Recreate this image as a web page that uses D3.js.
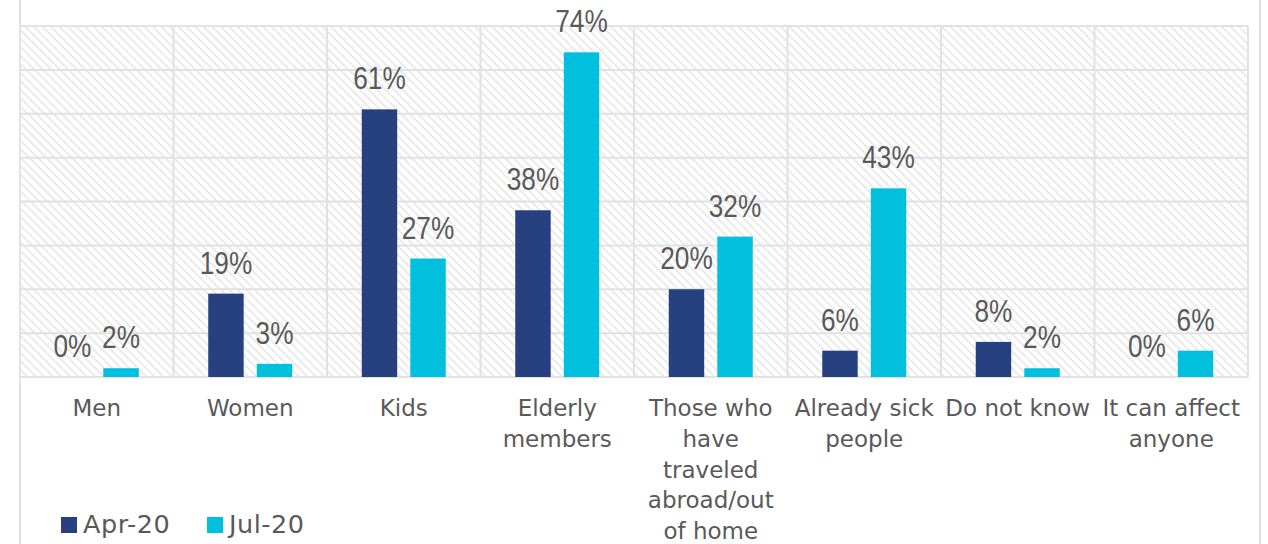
<!DOCTYPE html>
<html>
<head>
<meta charset="utf-8">
<script src="https://cdn.jsdelivr.net/npm/d3@7"></script>
<style>
  html, body { margin: 0; padding: 0; background: #ffffff; }
  svg { display: block; }
  .value { font-family: "Liberation Sans", Arial, sans-serif; font-size: 32px; fill: #595959; }
  .cat { font-family: "DejaVu Sans", sans-serif; font-size: 23px; fill: #595959; }
  .legend text { font-family: "DejaVu Sans", sans-serif; font-size: 25.5px; fill: #595959; letter-spacing: 0.5px; }
</style>
</head>
<body>
<svg id="chart" width="1268" height="544"></svg>
<script>
// Who is most at risk — share of answers per group, two survey waves
const categories = ["Men", "Women", "Kids", "Elderly members", "Those who have traveled abroad/out of home", "Already sick people", "Do not know", "It can affect anyone"];
const seriesNames = ["Apr-20", "Jul-20"];
const apr20 = [0, 19, 61, 38, 20, 6, 8, 0];
const jul20 = [2, 3, 27, 74, 32, 43, 2, 6];
const yTicks = [0, 10, 20, 30, 40, 50, 60, 70, 80];
const colors = ["#264080", "#00c0de"];

const series = [apr20, jul20];
const rows = categories.map((c, i) => ({ category: c, values: series.map((s, k) => ({ key: seriesNames[k], value: s[i] })) }));

const svg = d3.select("#chart");
const W = 1268, H = 544;
const plot = { left: 20, right: 1248, top: 26, bottom: 377 };

// Diagonal hatch fill for the plot area (downward stripes)
const defs = svg.append("defs");
const pat = defs.append("pattern")
  .attr("id", "hatch").attr("patternUnits", "userSpaceOnUse")
  .attr("width", 6).attr("height", 6)
  .attr("patternTransform", "rotate(45)");
pat.append("rect").attr("width", 6).attr("height", 6).attr("fill", "#ffffff");
pat.append("line").attr("x1", 0).attr("y1", 0).attr("x2", 6).attr("y2", 0)
  .attr("stroke", "#e6e6e6").attr("stroke-width", 3.2);

// Outer chart border
svg.append("rect")
  .attr("x", 20).attr("y", -10).attr("width", 1240).attr("height", H + 20)
  .attr("fill", "none").attr("stroke", "#e2e2e2").attr("stroke-width", 2);

const x0 = d3.scaleBand().domain(categories).range([plot.left, plot.right]).padding(0);
const bw = x0.bandwidth();
const x1 = d3.scaleBand().domain(seriesNames).range([bw / 2 - 42, bw / 2 + 42]).paddingInner(0.27).paddingOuter(0);
const y = d3.scaleLinear().domain([0, 80]).range([plot.bottom, plot.top]);

svg.append("rect")
  .attr("x", plot.left).attr("y", plot.top)
  .attr("width", plot.right - plot.left).attr("height", plot.bottom - plot.top)
  .attr("fill", "url(#hatch)");

// Horizontal gridlines
svg.append("g").selectAll("line").data(yTicks).join("line")
  .attr("x1", plot.left).attr("x2", plot.right)
  .attr("y1", d => y(d)).attr("y2", d => y(d))
  .attr("stroke", "#e2e2e2").attr("stroke-width", 2);

// Vertical separators between categories
const bounds = categories.map(c => x0(c)).concat([plot.right]);
svg.append("g").selectAll("line").data(bounds).join("line")
  .attr("x1", d => d).attr("x2", d => d)
  .attr("y1", plot.top).attr("y2", plot.bottom)
  .attr("stroke", "#e2e2e2").attr("stroke-width", 2);

// Bars
const groups = svg.append("g").selectAll("g").data(rows).join("g")
  .attr("transform", d => `translate(${x0(d.category)},0)`);

groups.selectAll("rect").data(d => d.values).join("rect")
  .attr("x", d => x1(d.key))
  .attr("width", x1.bandwidth())
  .attr("y", d => y(d.value))
  .attr("height", d => y(0) - y(d.value))
  .attr("fill", (d, i) => colors[i]);

// Value labels, set in a narrow cut
groups.selectAll("text.value").data(d => d.values).join("text")
  .attr("class", "value")
  .attr("text-anchor", "middle")
  .attr("transform", d => `translate(${x1(d.key) + x1.bandwidth() / 2},${y(d.value) - 20}) scale(0.82,1)`)
  .text(d => d.value + "%");

// Category labels, wrapped to the column width
const catG = svg.append("g");
const lineStep = 30.8;
categories.forEach(c => {
  const t = catG.append("text").attr("class", "cat").attr("text-anchor", "middle")
    .attr("x", x0(c) + bw / 2).attr("y", 416);
  const words = c.split(" ");
  let lines = [], cur = "";
  const probe = catG.append("text").attr("class", "cat");
  words.forEach(w => {
    const test = cur ? cur + " " + w : w;
    probe.text(test);
    if (probe.node().getComputedTextLength() > 150 && cur) { lines.push(cur); cur = w; }
    else cur = test;
  });
  lines.push(cur);
  probe.remove();
  lines.forEach((l, i) => {
    t.append("tspan").attr("x", x0(c) + bw / 2).attr("y", 416 + i * lineStep).text(l);
  });
});

// Legend
const legend = svg.append("g").attr("class", "legend");
const legendX = [61, 207];
seriesNames.forEach((name, i) => {
  legend.append("rect").attr("x", legendX[i]).attr("y", 517).attr("width", 16).attr("height", 16).attr("fill", colors[i]);
  legend.append("text").attr("x", legendX[i] + 22).attr("y", 533).text(name);
});
</script>
</body>
</html>
